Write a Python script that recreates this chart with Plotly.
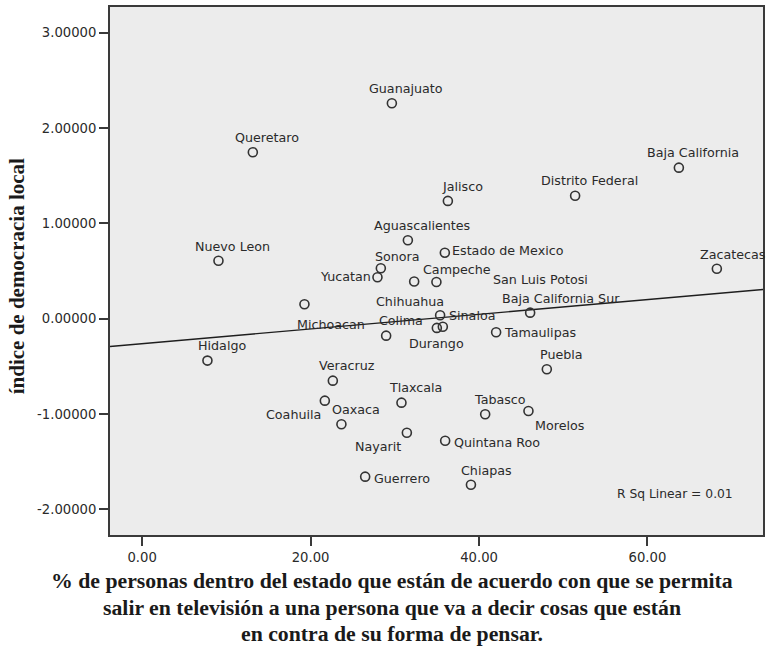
import numpy as np
import plotly.graph_objects as go

# ---- data ----
states = ["Guanajuato", "Queretaro", "Baja California", "Distrito Federal", "Jalisco",
          "Aguascalientes", "Estado de Mexico", "Nuevo Leon", "Zacatecas", "Sonora",
          "Yucatan", "Campeche", "San Luis Potosi", "Chihuahua", "Durango",
          "Baja California Sur", "Sinaloa", "Michoacan", "Colima", "Tamaulipas",
          "Hidalgo", "Puebla", "Veracruz", "Tlaxcala", "Tabasco", "Coahuila",
          "Oaxaca", "Morelos", "Nayarit", "Quintana Roo", "Guerrero", "Chiapas"]
pct_tv = [29.65, 13.14, 63.73, 51.41, 36.30,
          31.55, 35.94, 9.06, 68.24, 28.34,
          27.94, 34.94, 35.70, 32.30, 34.99,
          46.07, 35.38, 19.27, 28.97, 42.03,
          7.75, 48.05, 22.64, 30.79, 40.73, 21.69,
          23.66, 45.87, 31.43, 35.98, 26.48, 39.04]
dem_index = [2.260, 1.746, 1.585, 1.291, 1.236,
             0.823, 0.693, 0.609, 0.525, 0.530,
             0.435, 0.386, -0.083, 0.391, -0.096,
             0.064, 0.037, 0.153, -0.177, -0.142,
             -0.439, -0.530, -0.649, -0.880, -1.002, -0.859,
             -1.107, -0.967, -1.195, -1.280, -1.656, -1.741]
x_ticks = [0, 20, 40, 60]
y_ticks = [-2, -1, 0, 1, 2, 3]
r_sq_text = "R Sq Linear = 0.01"
y_title = "índice de democracia local"
x_title_lines = ["% de personas dentro del estado que están de acuerdo con que se permita",
                 "salir en televisión a una persona que va a decir cosas que están",
                 "en contra de su forma de pensar."]

# ---- label placement (layout only): (xanchor, dx px, dy px up) ----
label_place = {
    "Estado de Mexico": ("left", 5.5, 2), "Yucatan": ("right", -4.5, 1),
    "Campeche": ("center", 20.4, 12.7), "San Luis Potosi": ("center", 98, 46.7),
    "Chihuahua": ("center", -4.2, -20.2), "Durango": ("center", 0, -16),
    "Baja California Sur": ("center", 31, 14), "Sinaloa": ("left", 6.5, 0),
    "Michoacan": ("center", 26.5, -20.8), "Tamaulipas": ("left", 5.7, 0),
    "Coahuila": ("right", -1.7, -14.3), "Morelos": ("center", 30.9, -14.7),
    "Nayarit": ("right", -4, -13.3), "Quintana Roo": ("left", 6.7, -1.9),
    "Guerrero": ("left", 6.7, -1.6), "Sonora": ("center", 17, 12),
    "Zacatecas": ("center", 15.5, 14.7), "Chiapas": ("center", 15.5, 14.1),
}
default_place = ("center", 14.5, 14.7)

xr = [-3.82, 73.72]
yr = [-2.268, 3.270]

x = np.array(pct_tv)
y = np.array(dem_index)
slope, intercept = np.polyfit(x, y, 1)
fit_x = np.array(xr)
fit_y = slope * fit_x + intercept

label_font = dict(family="DejaVu Sans", size=12.7, color="#2a2a2a")
title_font = dict(family="Liberation Serif", size=21.75, color="#1a1a1a")

fig = go.Figure()
fig.add_trace(go.Scatter(x=fit_x, y=fit_y, mode="lines",
                         line=dict(color="#1e1e1e", width=1.3),
                         hoverinfo="skip", showlegend=False))
fig.add_trace(go.Scatter(x=pct_tv, y=dem_index, mode="markers", text=states,
                         marker=dict(symbol="circle-open", size=9,
                                     color="#333333", line=dict(width=1.6)),
                         showlegend=False))

annotations = []
for s, xv, yv in zip(states, pct_tv, dem_index):
    anchor, dx, dy = label_place.get(s, default_place)
    annotations.append(dict(x=xv, y=yv, xref="x", yref="y", text=s, showarrow=False,
                            xanchor=anchor, yanchor="middle", xshift=dx, yshift=dy,
                            font=label_font))

annotations.append(dict(x=0.8654, y=0.078, xref="paper", yref="paper", text=r_sq_text,
                        showarrow=False, xanchor="center", yanchor="middle",
                        font=dict(family="DejaVu Sans", size=12.3, color="#2a2a2a")))
annotations.append(dict(x=-0.1424, y=0.49, xref="paper", yref="paper",
                        text="<b>" + y_title + "</b>", textangle=-90,
                        showarrow=False, xanchor="center", yanchor="middle",
                        font=dict(family="Liberation Serif", size=21, color="#1a1a1a")))
# x title lines: centred at x=392px, line centres at 581, 608, 634 px
plot_l, plot_w, plot_t, plot_h = 110, 653, 7, 528
for line, ypx in zip(x_title_lines, [581, 608, 634]):
    annotations.append(dict(x=(392 - plot_l) / plot_w, y=(plot_t + plot_h - ypx) / plot_h,
                            xref="paper", yref="paper", text="<b>" + line + "</b>",
                            showarrow=False, xanchor="center", yanchor="middle",
                            font=title_font))

axis_common = dict(showgrid=False, zeroline=False, showline=True, mirror=True,
                   linecolor="#3a3a3a", linewidth=2, ticks="outside", ticklen=9,
                   tickwidth=2, tickcolor="#3a3a3a", automargin=False,
                   tickfont=dict(family="DejaVu Sans", size=13.2, color="#2a2a2a"))

fig.update_layout(
    width=766, height=651,
    margin=dict(l=plot_l, r=766 - plot_l - plot_w, t=plot_t, b=651 - plot_t - plot_h),
    paper_bgcolor="white", plot_bgcolor="#ECECEC",
    xaxis=dict(range=xr, tickvals=x_ticks, ticktext=[f"{v:.2f}" for v in x_ticks],
               **axis_common),
    yaxis=dict(range=yr, tickvals=y_ticks, ticktext=[f"{v:.5f}" for v in y_ticks],
               **axis_common),
    annotations=annotations,
)

fig.write_html("out.html", config={"displayModeBar": False},
               post_script="document.body.style.margin='0px';document.body.style.padding='0px';")
